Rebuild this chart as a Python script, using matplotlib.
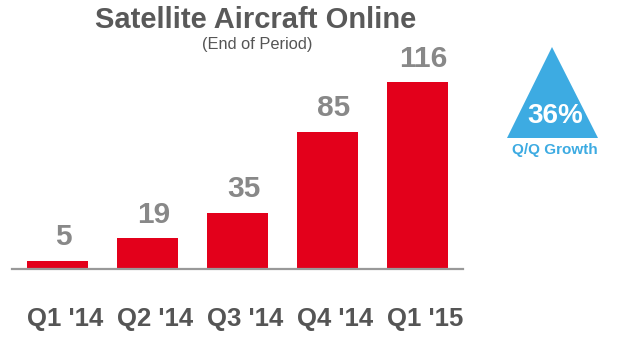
import matplotlib
matplotlib.use("Agg")
import matplotlib.pyplot as plt
from matplotlib.patches import Polygon
from matplotlib.transforms import ScaledTranslation

categories = ["Q1 '14", "Q2 '14", "Q3 '14", "Q4 '14", "Q1 '15"]
values = [5, 19, 35, 85, 116]
title = "Satellite Aircraft Online"
subtitle = "(End of Period)"
growth_label = "36%"
growth_caption = "Q/Q Growth"

W, H = 626, 338
fig = plt.figure(figsize=(W / 100, H / 100), dpi=100)
plt.rcParams['font.family'] = ['Liberation Sans', 'DejaVu Sans']

def fx(px):
    return px / W

def fy(py):
    return 1 - py / H

# axes: x from 12 to 463 px, baseline at 269 px, top at 60 px
ax = fig.add_axes([fx(12), fy(269), fx(463 - 12), (269 - 60) / H])
x = list(range(len(categories)))
ax.bar(x, values, width=0.68, color="#E3001B", zorder=2)
ax.set_xlim(-0.506, 4.506)
ax.set_ylim(0, 209 / 1.61)
for s in ["top", "right", "left"]:
    ax.spines[s].set_visible(False)
ax.spines["bottom"].set_color("#999999")
ax.spines["bottom"].set_linewidth(1.6)
ax.set_yticks([])
ax.set_xticks(x)
ax.set_xticklabels(categories, fontsize=18.5, fontweight="bold", color="#555555")
ax.tick_params(axis="x", length=0, pad=27.5)
shift = ScaledTranslation(7.5 / 100, 0, fig.dpi_scale_trans)
for lab in ax.get_xticklabels():
    lab.set_transform(lab.get_transform() + shift)
ax.patch.set_alpha(0)

for xi, v in zip(x, values):
    ax.annotate(str(v), (xi, v), xytext=(4.5, 7), textcoords="offset points",
                ha="center", va="bottom", fontsize=21.5, fontweight="bold", color="#888888")

fig.text(fx(255.5), fy(20), title, ha="center", va="center", fontsize=21,
         fontweight="bold", color="#595959")
fig.text(fx(257.5), fy(45), subtitle, ha="center", va="center", fontsize=11.8,
         color="#555555")

tri = Polygon([[fx(552), fy(47)], [fx(507), fy(138)], [fx(598), fy(138)]],
              closed=True, transform=fig.transFigure, facecolor="#3DABE2",
              edgecolor="none")
fig.add_artist(tri)
fig.text(fx(555), fy(116), growth_label, ha="center", va="center", fontsize=20,
         fontweight="bold", color="white")
fig.text(fx(555), fy(150), growth_caption, ha="center", va="center", fontsize=11,
         fontweight="bold", color="#3DABE2")

fig.savefig("out.png", dpi=100)
